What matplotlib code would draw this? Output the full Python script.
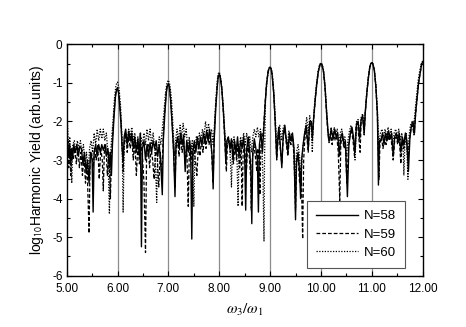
import matplotlib
matplotlib.use('Agg')
import matplotlib.pyplot as plt
from matplotlib.ticker import MultipleLocator, FormatStrFormatter

plt.rcParams['font.family'] = ['Liberation Sans', 'DejaVu Sans']
plt.rcParams['mathtext.fontset'] = 'stix'
plt.rcParams['axes.unicode_minus'] = False

# --- データ ---
harmonics = [6, 7, 8, 9, 10, 11]
labels = ['N=58', 'N=59', 'N=60']

# N=58 (実線)
n58 = [
    (5.00, -2.1), (5.02, -2.6), (5.04, -2.9), (5.06, -2.6), (5.08, -3.1), (5.10, -2.7),
    (5.12, -2.9), (5.14, -2.6), (5.17, -2.8), (5.20, -2.6), (5.23, -2.9), (5.26, -2.65),
    (5.29, -2.7), (5.32, -3.1), (5.35, -2.8), (5.38, -3.3), (5.41, -3.0), (5.44, -3.6),
    (5.47, -2.8), (5.50, -3.0), (5.52, -4.35), (5.54, -2.8), (5.57, -2.6), (5.60, -2.9),
    (5.63, -2.6), (5.66, -2.8), (5.69, -2.6), (5.72, -2.75), (5.75, -2.6), (5.78, -2.9),
    (5.81, -2.7), (5.84, -3.2), (5.86, -2.8), (5.88, -3.4), (5.90, -2.6), (5.93, -1.9),
    (5.96, -1.35), (5.98, -1.18), (6.00, -1.15), (6.02, -1.25), (6.04, -1.55), (6.07, -2.1),
    (6.09, -2.7), (6.11, -3.05), (6.13, -2.4), (6.16, -2.2), (6.19, -2.6), (6.22, -2.25),
    (6.25, -2.5), (6.28, -2.3), (6.31, -2.7), (6.34, -2.4), (6.37, -2.8), (6.40, -2.45),
    (6.43, -2.9), (6.45, -2.3), (6.47, -5.25), (6.49, -2.7), (6.52, -2.5), (6.55, -3.0),
    (6.58, -2.6), (6.61, -2.9), (6.64, -2.55), (6.67, -2.8), (6.70, -2.5), (6.73, -2.7),
    (6.76, -2.5), (6.79, -2.9), (6.82, -2.6), (6.85, -3.1), (6.88, -3.9), (6.90, -2.5),
    (6.93, -1.8), (6.96, -1.25), (6.98, -1.07), (7.00, -1.03), (7.02, -1.12), (7.04, -1.4),
    (7.07, -2.0), (7.10, -2.7), (7.13, -3.95), (7.15, -2.6), (7.18, -2.4), (7.21, -2.7),
    (7.24, -2.3), (7.27, -2.6), (7.30, -2.35), (7.33, -3.3), (7.36, -2.5), (7.39, -2.8),
    (7.42, -2.5), (7.44, -3.0), (7.46, -5.05), (7.48, -2.8), (7.51, -2.5), (7.54, -2.8),
    (7.57, -2.4), (7.60, -2.7), (7.63, -2.4), (7.66, -2.6), (7.69, -2.3), (7.72, -2.55),
    (7.75, -2.25), (7.78, -2.5), (7.81, -2.2), (7.84, -2.6), (7.86, -2.9), (7.88, -3.75),
    (7.90, -2.5), (7.93, -1.7), (7.96, -1.1), (7.98, -0.85), (8.00, -0.78), (8.02, -0.85),
    (8.05, -1.15), (8.08, -1.7), (8.11, -2.4), (8.13, -3.1), (8.15, -2.5), (8.18, -2.4),
    (8.21, -2.7), (8.24, -2.45), (8.27, -3.0), (8.30, -2.5), (8.33, -2.8), (8.36, -2.4),
    (8.39, -2.9), (8.42, -2.5), (8.45, -2.7), (8.48, -2.4), (8.50, -2.9), (8.52, -4.3),
    (8.54, -2.7), (8.57, -2.4), (8.60, -2.8), (8.62, -3.2), (8.64, -4.65), (8.66, -2.8),
    (8.69, -2.45), (8.72, -2.7), (8.75, -3.0), (8.77, -4.35), (8.79, -2.6), (8.82, -2.3),
    (8.85, -2.8), (8.87, -2.3), (8.90, -1.6), (8.93, -1.05), (8.96, -0.72), (8.98, -0.62),
    (9.00, -0.6), (9.02, -0.64), (9.04, -0.8), (9.07, -1.25), (9.10, -2.0), (9.13, -2.95),
    (9.15, -2.5), (9.17, -2.15), (9.20, -2.6), (9.23, -3.2), (9.26, -2.3), (9.29, -2.1),
    (9.32, -2.5), (9.35, -2.8), (9.38, -2.3), (9.41, -2.5), (9.44, -2.3), (9.47, -2.7),
    (9.50, -4.55), (9.52, -3.0), (9.55, -2.8), (9.58, -3.3), (9.60, -4.0), (9.62, -3.0),
    (9.65, -2.6), (9.68, -2.3), (9.71, -2.1), (9.73, -2.4), (9.75, -2.7), (9.78, -2.0),
    (9.81, -2.0), (9.83, -2.4), (9.86, -1.85), (9.89, -1.4), (9.92, -1.0), (9.95, -0.7),
    (9.98, -0.53), (10.00, -0.5), (10.02, -0.53), (10.05, -0.7), (10.08, -1.1), (10.11, -1.75),
    (10.13, -2.1), (10.15, -2.45), (10.17, -2.5), (10.20, -2.2), (10.24, -2.45), (10.27, -2.2),
    (10.30, -2.4), (10.33, -2.3), (10.36, -2.9), (10.39, -2.4), (10.42, -2.3), (10.45, -2.6),
    (10.48, -2.5), (10.52, -3.95), (10.55, -2.6), (10.58, -2.3), (10.61, -2.15), (10.64, -2.4),
    (10.67, -2.8), (10.70, -2.05), (10.73, -2.0), (10.76, -2.45), (10.79, -1.95), (10.82, -1.85),
    (10.85, -2.3), (10.87, -1.8), (10.90, -1.3), (10.93, -0.9), (10.96, -0.6), (10.98, -0.5),
    (11.00, -0.48), (11.02, -0.5), (11.05, -0.68), (11.08, -1.1), (11.11, -1.8), (11.13, -3.65),
    (11.15, -2.5), (11.18, -2.5), (11.21, -2.3), (11.24, -2.6), (11.27, -2.3), (11.30, -2.5),
    (11.33, -2.25), (11.36, -2.45), (11.39, -2.3), (11.42, -2.9), (11.45, -2.4), (11.48, -2.3),
    (11.51, -2.5), (11.54, -2.3), (11.57, -2.8), (11.60, -2.4), (11.63, -2.6), (11.66, -2.3),
    (11.69, -2.5), (11.72, -3.3), (11.75, -2.4), (11.78, -2.1), (11.81, -2.0), (11.84, -2.3),
    (11.86, -1.8), (11.89, -1.4), (11.92, -1.0), (11.95, -0.75), (11.98, -0.52), (12.00, -0.45),
]

# N=59 (破線)
n59 = [
    (5.00, -2.4), (5.02, -2.8), (5.04, -3.2), (5.06, -2.7), (5.08, -3.4), (5.10, -2.8),
    (5.13, -3.0), (5.16, -2.7), (5.19, -3.1), (5.22, -2.7), (5.25, -3.2), (5.28, -2.8),
    (5.31, -3.4), (5.34, -2.9), (5.37, -3.6), (5.40, -3.1), (5.42, -4.0), (5.44, -4.9),
    (5.46, -3.0), (5.49, -2.8), (5.52, -3.2), (5.55, -2.7), (5.58, -3.0), (5.61, -2.6),
    (5.64, -3.5), (5.67, -2.7), (5.70, -3.0), (5.72, -3.8), (5.74, -2.8), (5.77, -2.6),
    (5.80, -3.4), (5.83, -2.8), (5.86, -4.0), (5.88, -2.9), (5.91, -2.2), (5.94, -1.6),
    (5.97, -1.2), (6.00, -1.12), (6.03, -1.3), (6.06, -1.8), (6.09, -2.6), (6.11, -3.3),
    (6.13, -2.6), (6.16, -2.3), (6.19, -2.8), (6.22, -2.4), (6.25, -2.7), (6.28, -2.4),
    (6.31, -3.0), (6.34, -2.5), (6.37, -3.4), (6.40, -2.6), (6.43, -3.1), (6.46, -2.6),
    (6.49, -2.9), (6.52, -3.6), (6.55, -5.4), (6.57, -3.0), (6.60, -2.6), (6.63, -3.2),
    (6.66, -2.7), (6.69, -3.0), (6.72, -3.5), (6.75, -2.7), (6.78, -2.9), (6.81, -3.7),
    (6.84, -2.8), (6.87, -3.4), (6.90, -2.3), (6.93, -1.7), (6.96, -1.2), (6.98, -1.05),
    (7.00, -1.02), (7.02, -1.1), (7.05, -1.5), (7.08, -2.2), (7.11, -3.0), (7.13, -3.7),
    (7.15, -2.7), (7.18, -2.5), (7.21, -2.9), (7.24, -2.4), (7.27, -2.8), (7.30, -2.5),
    (7.33, -3.1), (7.36, -2.6), (7.39, -4.2), (7.41, -2.9), (7.44, -2.6), (7.47, -3.2),
    (7.50, -2.6), (7.53, -3.0), (7.56, -3.4), (7.59, -2.6), (7.62, -2.9), (7.65, -2.5),
    (7.68, -2.8), (7.71, -2.4), (7.74, -2.7), (7.77, -2.3), (7.80, -2.6), (7.83, -2.3),
    (7.86, -3.1), (7.88, -3.6), (7.90, -2.4), (7.93, -1.6), (7.96, -1.05), (7.98, -0.82),
    (8.00, -0.76), (8.02, -0.84), (8.05, -1.15), (8.08, -1.75), (8.11, -2.5), (8.14, -3.3),
    (8.16, -2.6), (8.19, -2.5), (8.22, -2.8), (8.25, -2.5), (8.28, -3.1), (8.31, -2.6),
    (8.34, -3.0), (8.37, -2.6), (8.40, -3.2), (8.43, -2.7), (8.45, -4.2), (8.47, -2.8),
    (8.50, -2.6), (8.53, -3.4), (8.56, -2.6), (8.59, -2.9), (8.62, -3.5), (8.63, -4.3),
    (8.65, -3.0), (8.68, -2.6), (8.71, -2.9), (8.74, -3.3), (8.76, -2.7), (8.79, -3.2),
    (8.80, -3.9), (8.82, -2.6), (8.85, -2.4), (8.87, -2.2), (8.90, -1.55), (8.93, -1.0),
    (8.96, -0.7), (8.98, -0.61), (9.00, -0.59), (9.02, -0.63), (9.04, -0.78), (9.07, -1.25),
    (9.10, -2.0), (9.13, -3.0), (9.15, -2.6), (9.17, -2.2), (9.20, -2.7), (9.23, -3.1),
    (9.26, -2.4), (9.29, -2.2), (9.32, -2.6), (9.35, -2.9), (9.38, -2.4), (9.41, -2.6),
    (9.44, -2.4), (9.47, -2.9), (9.50, -4.3), (9.52, -3.1), (9.55, -2.9), (9.58, -3.6),
    (9.61, -3.2), (9.64, -5.05), (9.66, -3.0), (9.68, -2.5), (9.71, -2.2), (9.73, -2.5),
    (9.75, -2.8), (9.78, -2.05), (9.81, -2.1), (9.83, -2.5), (9.86, -1.9), (9.89, -1.4),
    (9.92, -1.0), (9.95, -0.7), (9.98, -0.54), (10.00, -0.5), (10.02, -0.54), (10.05, -0.72),
    (10.08, -1.15), (10.11, -1.8), (10.13, -2.2), (10.16, -2.55), (10.19, -2.3), (10.22, -2.6),
    (10.25, -2.3), (10.28, -2.5), (10.31, -2.35), (10.34, -2.8), (10.37, -4.05), (10.39, -2.6),
    (10.42, -2.35), (10.45, -2.7), (10.48, -2.6), (10.51, -3.6), (10.54, -2.7), (10.57, -2.35),
    (10.60, -2.2), (10.63, -2.5), (10.66, -2.9), (10.69, -2.1), (10.72, -2.05), (10.75, -2.5),
    (10.77, -2.8), (10.79, -2.0), (10.82, -1.9), (10.85, -2.35), (10.87, -1.8), (10.90, -1.3),
    (10.93, -0.9), (10.96, -0.6), (10.98, -0.5), (11.00, -0.48), (11.02, -0.5), (11.05, -0.68),
    (11.08, -1.1), (11.11, -1.85), (11.14, -3.5), (11.16, -2.6), (11.19, -2.4), (11.22, -2.7),
    (11.25, -2.4), (11.28, -2.6), (11.31, -2.3), (11.34, -2.5), (11.37, -2.35), (11.40, -2.7),
    (11.42, -3.0), (11.45, -2.5), (11.48, -2.4), (11.51, -2.6), (11.54, -2.4), (11.57, -3.1),
    (11.60, -2.5), (11.63, -2.7), (11.66, -2.4), (11.69, -2.6), (11.71, -3.0), (11.74, -2.5),
    (11.77, -2.2), (11.80, -2.1), (11.83, -2.35), (11.86, -1.85), (11.89, -1.4), (11.92, -1.0),
    (11.95, -0.75), (11.98, -0.52), (12.00, -0.45),
]

# N=60 (点線)
n60 = [
    (5.00, -1.6), (5.02, -2.2), (5.04, -2.7), (5.06, -2.4), (5.08, -2.9), (5.10, -3.6),
    (5.12, -2.6), (5.15, -2.5), (5.18, -2.8), (5.21, -2.5), (5.24, -2.7), (5.27, -2.5),
    (5.30, -2.8), (5.33, -2.6), (5.36, -3.2), (5.39, -2.8), (5.42, -3.4), (5.45, -2.7),
    (5.48, -2.5), (5.51, -2.8), (5.54, -2.3), (5.57, -2.6), (5.60, -2.2), (5.63, -2.5),
    (5.66, -2.2), (5.69, -2.45), (5.72, -2.2), (5.75, -2.5), (5.78, -2.3), (5.81, -2.8),
    (5.84, -4.4), (5.86, -2.9), (5.88, -2.5), (5.91, -2.0), (5.94, -1.4), (5.97, -1.05),
    (6.00, -0.98), (6.03, -1.15), (6.06, -1.6), (6.09, -2.5), (6.11, -4.35), (6.13, -2.7),
    (6.16, -2.3), (6.19, -2.5), (6.22, -2.2), (6.25, -2.4), (6.28, -2.15), (6.31, -2.5),
    (6.34, -2.3), (6.37, -2.7), (6.40, -2.4), (6.43, -2.8), (6.46, -2.4), (6.49, -2.6),
    (6.52, -2.3), (6.55, -2.6), (6.58, -2.2), (6.61, -2.5), (6.64, -2.2), (6.67, -2.6),
    (6.70, -2.3), (6.73, -2.7), (6.75, -3.3), (6.77, -4.1), (6.79, -2.8), (6.82, -2.4),
    (6.85, -2.6), (6.88, -2.2), (6.91, -1.8), (6.94, -1.3), (6.97, -1.0), (7.00, -0.93),
    (7.03, -1.05), (7.06, -1.4), (7.09, -2.1), (7.12, -2.9), (7.14, -2.5), (7.17, -2.2),
    (7.20, -2.5), (7.23, -2.1), (7.26, -2.4), (7.29, -2.05), (7.32, -2.4), (7.35, -2.2),
    (7.38, -2.7), (7.41, -2.4), (7.44, -2.9), (7.47, -2.5), (7.50, -4.2), (7.52, -2.8),
    (7.55, -2.4), (7.58, -2.6), (7.61, -2.3), (7.64, -2.5), (7.67, -2.2), (7.70, -2.4),
    (7.73, -2.0), (7.76, -2.3), (7.79, -2.05), (7.82, -2.4), (7.85, -2.2), (7.88, -2.6),
    (7.90, -2.2), (7.93, -1.5), (7.96, -0.95), (7.98, -0.76), (8.00, -0.72), (8.02, -0.8),
    (8.05, -1.1), (8.08, -1.65), (8.11, -2.3), (8.14, -2.8), (8.17, -2.4), (8.20, -2.6),
    (8.22, -3.0), (8.24, -3.7), (8.26, -2.7), (8.29, -2.4), (8.32, -2.7), (8.35, -3.0),
    (8.37, -4.2), (8.39, -2.8), (8.42, -2.4), (8.45, -2.6), (8.48, -2.3), (8.51, -2.6),
    (8.54, -2.3), (8.57, -2.7), (8.60, -2.4), (8.63, -2.8), (8.66, -2.4), (8.69, -2.2),
    (8.72, -2.4), (8.75, -2.15), (8.78, -2.4), (8.81, -2.2), (8.84, -2.6), (8.86, -3.5),
    (8.88, -5.1), (8.89, -3.0), (8.91, -1.4), (8.94, -0.95), (8.97, -0.66), (9.00, -0.58),
    (9.03, -0.66), (9.05, -0.85), (9.08, -1.35), (9.11, -2.1), (9.13, -2.7), (9.16, -2.3),
    (9.19, -2.1), (9.22, -2.5), (9.25, -2.2), (9.28, -2.1), (9.31, -2.4), (9.34, -2.6),
    (9.37, -2.25), (9.40, -2.5), (9.43, -2.3), (9.46, -2.6), (9.49, -3.5), (9.52, -2.8),
    (9.55, -2.6), (9.58, -2.9), (9.61, -3.6), (9.63, -2.9), (9.66, -2.5), (9.69, -2.2),
    (9.72, -1.9), (9.75, -2.3), (9.78, -1.85), (9.81, -2.2), (9.83, -2.8), (9.85, -2.0),
    (9.88, -1.45), (9.91, -1.05), (9.94, -0.72), (9.97, -0.53), (10.00, -0.48), (10.03, -0.53),
    (10.06, -0.75), (10.09, -1.25), (10.12, -1.9), (10.14, -2.3), (10.17, -2.45), (10.20, -2.15),
    (10.23, -2.4), (10.26, -2.15), (10.29, -2.35), (10.32, -2.2), (10.35, -2.6), (10.38, -2.3),
    (10.41, -2.2), (10.44, -2.5), (10.47, -2.4), (10.50, -2.9), (10.53, -2.5), (10.56, -2.25),
    (10.59, -2.1), (10.62, -2.3), (10.65, -2.6), (10.67, -3.0), (10.70, -2.0), (10.73, -1.95),
    (10.76, -2.35), (10.79, -1.9), (10.82, -1.8), (10.85, -2.2), (10.87, -1.75), (10.90, -1.25),
    (10.93, -0.85), (10.96, -0.58), (10.98, -0.49), (11.00, -0.47), (11.02, -0.5), (11.05, -0.66),
    (11.08, -1.05), (11.11, -1.7), (11.14, -2.6), (11.17, -2.3), (11.20, -2.2), (11.23, -2.4),
    (11.26, -2.2), (11.29, -2.4), (11.32, -2.15), (11.35, -2.4), (11.38, -2.2), (11.41, -2.6),
    (11.44, -2.3), (11.47, -2.2), (11.50, -2.4), (11.53, -2.2), (11.56, -2.5), (11.59, -2.3),
    (11.62, -2.8), (11.63, -3.4), (11.65, -2.6), (11.68, -2.3), (11.71, -3.5), (11.73, -2.4),
    (11.76, -2.1), (11.79, -2.0), (11.82, -2.2), (11.85, -1.75), (11.88, -1.35), (11.91, -0.95),
    (11.94, -0.7), (11.97, -0.52), (12.00, -0.43),
]

# --- 描画 ---
fig = plt.figure(figsize=(4.66, 3.27), dpi=100)
ax = fig.add_axes([0.1431, 0.1569, 0.7639, 0.7076])

# 高調波位置の縦線
for h in harmonics:
    ax.axvline(h, color='#8c8c8c', linewidth=0.9, zorder=1)

styles = [
    dict(linestyle='-', linewidth=1.0),
    dict(linestyle=(0, (3.0, 1.6)), linewidth=0.9),
    dict(linestyle=(0, (1.0, 1.2)), linewidth=0.9),
]
for data, lab, st in zip([n58, n59, n60], labels, styles):
    xs = [p[0] for p in data]
    ys = [p[1] for p in data]
    ax.plot(xs, ys, color='black', label=lab, zorder=2, **st)

ax.set_xlim(5, 12)
ax.set_ylim(-6, 0)
ax.xaxis.set_major_locator(MultipleLocator(1))
ax.xaxis.set_minor_locator(MultipleLocator(0.5))
ax.xaxis.set_major_formatter(FormatStrFormatter('%.2f'))
ax.yaxis.set_major_locator(MultipleLocator(1))
ax.yaxis.set_minor_locator(MultipleLocator(0.5))
ax.tick_params(which='both', direction='in', top=True, right=True, labelsize=8.5, width=0.8)
ax.tick_params(which='major', length=3.5)
ax.tick_params(which='minor', length=2)
ax.tick_params(axis='x', which='major', pad=5)
ax.tick_params(axis='y', which='major', pad=3)
for s in ax.spines.values():
    s.set_linewidth(1.0)

ax.set_xlabel(r'$\omega_3/\omega_1$', fontsize=11, labelpad=5)
ax.set_ylabel(r'log$_{\mathsf{10}}$Harmonic Yield (arb.units)', fontsize=10, labelpad=4)

leg = ax.legend(loc='lower right', bbox_to_anchor=(0.95, 0.033), fontsize=9.5,
                fancybox=False, edgecolor='#555555', framealpha=1,
                handlelength=3.2, handletextpad=0.4, labelspacing=0.45,
                borderpad=0.7, borderaxespad=0)
leg.get_frame().set_linewidth(0.8)

fig.savefig('out.png', dpi=100)
